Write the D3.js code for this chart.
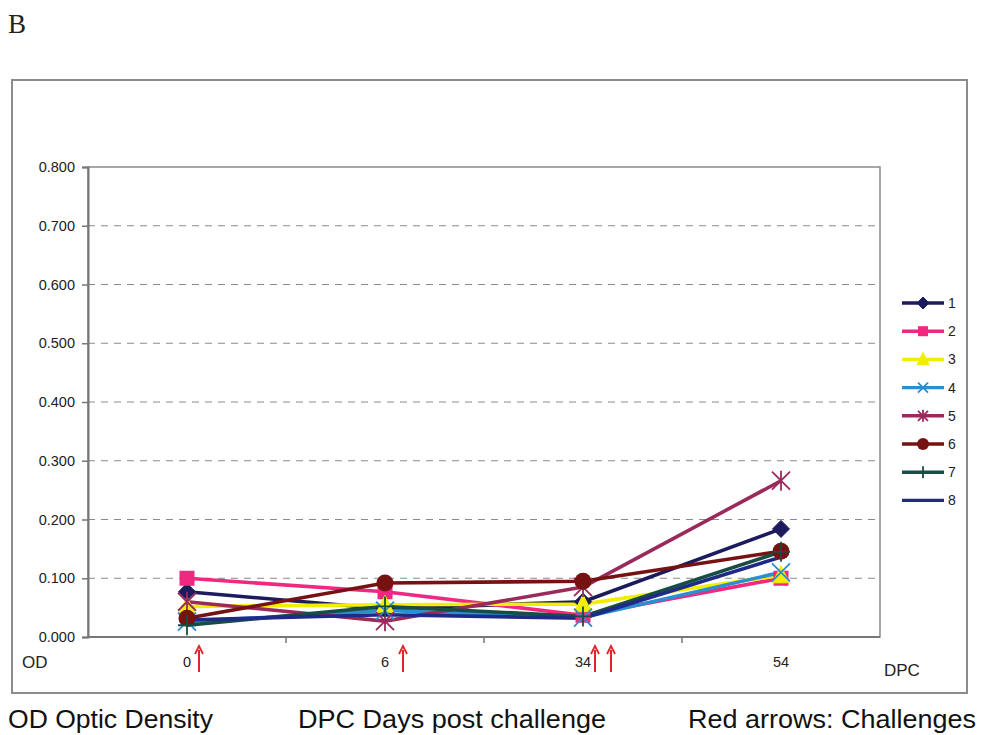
<!DOCTYPE html>
<html>
<head>
<meta charset="utf-8">
<script src="https://cdn.jsdelivr.net/npm/d3@7"></script>
<style>
  html, body { margin: 0; padding: 0; background: #fff; }
  svg { display: block; }
</style>
</head>
<body>
<svg id="chart" width="983" height="735"></svg>
<script>
// Days post challenge (categories on the x axis)
const days = ["0", "6", "34", "54"];

// Optic density per animal
const s1 = [0.077, 0.048, 0.060, 0.184];
const s2 = [0.100, 0.077, 0.037, 0.100];
const s3 = [0.052, 0.055, 0.056, 0.105];
const s4 = [0.026, 0.045, 0.033, 0.110];
const s5 = [0.060, 0.027, 0.085, 0.266];
const s6 = [0.032, 0.092, 0.095, 0.146];
const s7 = [0.020, 0.052, 0.035, 0.145];
const s8 = [0.029, 0.038, 0.032, 0.136];

const seriesNames = ["1", "2", "3", "4", "5", "6", "7", "8"];
const seriesValues = [s1, s2, s3, s4, s5, s6, s7, s8];
const seriesColors = ["#1b1b5e", "#f0287f", "#f2ee00", "#2a8ed0", "#9a2a5c", "#761212", "#174d42", "#1f2a88"];
const seriesMarkers = ["diamond", "square", "triangle", "x", "star", "circle", "plus", "none"];

// Challenge days, marked with red arrows under the axis
const challengeDays = ["0", "6", "34", "34"];
const challengeOffsets = [12, 18, 12, 28];

const yTicks = [0, 0.1, 0.2, 0.3, 0.4, 0.5, 0.6, 0.7, 0.8];

const svg = d3.select("#chart");
const plot = { left: 88, right: 880, top: 167, bottom: 637 };

const x = d3.scaleBand().domain(days).range([plot.left, plot.right]);
const y = d3.scaleLinear().domain([0, 0.8]).range([plot.bottom, plot.top]);

// Panel letter
svg.append("text").attr("x", 8).attr("y", 33)
  .attr("font-family", "Liberation Serif, DejaVu Serif, serif")
  .attr("font-size", 27).attr("fill", "#222").text("B");

// Chart frame
svg.append("rect").attr("x", 12).attr("y", 80).attr("width", 955).attr("height", 613)
  .attr("fill", "#fff").attr("stroke", "#8c8c8c").attr("stroke-width", 2);

// Gridlines
svg.append("g").selectAll("line").data(yTicks.filter(d => d > 0 && d < 0.8)).join("line")
  .attr("x1", plot.left).attr("x2", plot.right)
  .attr("y1", d => y(d)).attr("y2", d => y(d))
  .attr("stroke", "#8a8a8a").attr("stroke-width", 1.2).attr("stroke-dasharray", "7,6");

// Plot area border
svg.append("rect").attr("x", plot.left).attr("y", plot.top)
  .attr("width", plot.right - plot.left).attr("height", plot.bottom - plot.top)
  .attr("fill", "none").attr("stroke", "#8a8a8a").attr("stroke-width", 1.5);

// Y axis
const yAxis = svg.append("g").attr("transform", `translate(${plot.left},0)`)
  .call(d3.axisLeft(y).tickValues(yTicks).tickFormat(d3.format(".3f")).tickSize(6).tickPadding(7));
yAxis.select(".domain").attr("stroke", "#777").attr("stroke-width", 2);
yAxis.selectAll(".tick line").attr("stroke", "#777").attr("stroke-width", 1.5);
yAxis.selectAll("text").attr("font-family", "Liberation Sans, Arial, sans-serif")
  .attr("font-size", 14.5).attr("fill", "#222");

// X axis: tick marks between categories, labels under each category
const xAxis = svg.append("g").attr("transform", `translate(0,${plot.bottom})`);
xAxis.append("line").attr("x1", plot.left).attr("x2", plot.right)
  .attr("stroke", "#777").attr("stroke-width", 2);
xAxis.selectAll("line.tk").data(days.slice(1)).join("line").attr("class", "tk")
  .attr("x1", d => x(d)).attr("x2", d => x(d)).attr("y1", 0).attr("y2", 6)
  .attr("stroke", "#777").attr("stroke-width", 1.5);
xAxis.selectAll("text").data(days).join("text")
  .attr("x", d => x(d) + x.bandwidth() / 2).attr("y", 30)
  .attr("text-anchor", "middle")
  .attr("font-family", "Liberation Sans, Arial, sans-serif")
  .attr("font-size", 14.5).attr("fill", "#222").text(d => d);

// Axis names
svg.append("text").attr("x", 22).attr("y", 668)
  .attr("font-family", "Liberation Sans, Arial, sans-serif")
  .attr("font-size", 17).attr("fill", "#222").text("OD");
svg.append("text").attr("x", 884).attr("y", 676)
  .attr("font-family", "Liberation Sans, Arial, sans-serif")
  .attr("font-size", 17).attr("fill", "#222").text("DPC");

// Challenge arrows
const arrows = svg.append("g");
challengeDays.forEach((d, i) => {
  const ax = x(d) + x.bandwidth() / 2 + challengeOffsets[i];
  arrows.append("line").attr("x1", ax).attr("x2", ax).attr("y1", 672).attr("y2", 650)
    .attr("stroke", "#e0242a").attr("stroke-width", 2);
  arrows.append("path")
    .attr("d", `M${ax - 4},${654} L${ax},${646} L${ax + 4},${654}`)
    .attr("fill", "none").attr("stroke", "#e0242a").attr("stroke-width", 1.8);
});

// Marker drawing
function drawMarker(g, type, color, cx, cy, s) {
  const h = s / 2;
  if (type === "diamond") {
    g.append("path").attr("d", `M${cx},${cy - h - 1} L${cx + h + 1},${cy} L${cx},${cy + h + 1} L${cx - h - 1},${cy} Z`)
      .attr("fill", color).attr("stroke", color);
  } else if (type === "square") {
    g.append("rect").attr("x", cx - h).attr("y", cy - h).attr("width", s).attr("height", s)
      .attr("fill", color);
  } else if (type === "triangle") {
    g.append("path").attr("d", `M${cx},${cy - h - 2} L${cx + h + 1},${cy + h} L${cx - h - 1},${cy + h} Z`)
      .attr("fill", color).attr("stroke", color);
  } else if (type === "circle") {
    g.append("circle").attr("cx", cx).attr("cy", cy).attr("r", h + 1).attr("fill", color);
  } else if (type === "x") {
    g.append("path").attr("d", `M${cx - h},${cy - h} L${cx + h},${cy + h} M${cx - h},${cy + h} L${cx + h},${cy - h}`)
      .attr("stroke", color).attr("stroke-width", 1.8);
  } else if (type === "star") {
    g.append("path").attr("d", `M${cx - h},${cy - h} L${cx + h},${cy + h} M${cx - h},${cy + h} L${cx + h},${cy - h} M${cx},${cy - h - 1} L${cx},${cy + h + 1}`)
      .attr("stroke", color).attr("stroke-width", 1.8);
  } else if (type === "plus") {
    g.append("path").attr("d", `M${cx - h},${cy} L${cx + h},${cy} M${cx},${cy - h - 1} L${cx},${cy + h + 1}`)
      .attr("stroke", color).attr("stroke-width", 1.8);
  }
}

// Series lines and markers
const line = d3.line().x((d, i) => x(days[i]) + x.bandwidth() / 2).y(d => y(d));
const seriesG = svg.append("g");
seriesValues.forEach((vals, k) => {
  seriesG.append("path").datum(vals).attr("d", line)
    .attr("fill", "none").attr("stroke", seriesColors[k]).attr("stroke-width", 3.6)
    .attr("stroke-linejoin", "round");
});
seriesValues.forEach((vals, k) => {
  const g = seriesG.append("g");
  vals.forEach((v, i) => {
    const size = seriesMarkers[k] === "star" || seriesMarkers[k] === "x" || seriesMarkers[k] === "plus" ? 18 : 15;
    drawMarker(g, seriesMarkers[k], seriesColors[k], x(days[i]) + x.bandwidth() / 2, y(v), size);
  });
});

// Legend
const legend = svg.append("g");
seriesNames.forEach((n, k) => {
  const ly = 303 + k * 28.2;
  legend.append("line").attr("x1", 902).attr("x2", 944).attr("y1", ly).attr("y2", ly)
    .attr("stroke", seriesColors[k]).attr("stroke-width", 3.4);
  drawMarker(legend, seriesMarkers[k], seriesColors[k], 923, ly, 10);
  legend.append("text").attr("x", 948).attr("y", ly + 5)
    .attr("font-family", "Liberation Sans, Arial, sans-serif")
    .attr("font-size", 14).attr("fill", "#222").text(n);
});

// Footnotes
const notes = [
  { t: "OD Optic Density", x: 8, w: 205 },
  { t: "DPC Days post challenge", x: 298, w: 308 },
  { t: "Red arrows: Challenges", x: 688, w: 288 }
];
svg.append("g").selectAll("text").data(notes).join("text")
  .attr("x", d => d.x).attr("y", 728)
  .attr("textLength", d => d.w).attr("lengthAdjust", "spacingAndGlyphs")
  .attr("font-family", "Liberation Sans, Arial, sans-serif")
  .attr("font-size", 25).attr("fill", "#111").text(d => d.t);
</script>
</body>
</html>
